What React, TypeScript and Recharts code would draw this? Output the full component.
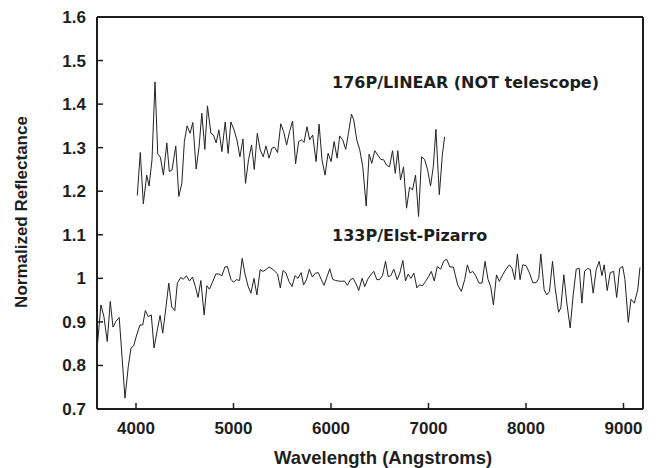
import React from 'react';
import { LineChart, Line, XAxis, YAxis, ReferenceDot, Label } from 'recharts';

// 176P/LINEAR (NOT telescope)
const wavelength176 = [
  4013, 4044, 4075, 4110, 4134, 4164, 4195, 4223, 4250, 4281, 4316, 4342, 4370, 4408, 4439, 4470,
  4496, 4524, 4555, 4583, 4617, 4647, 4675, 4706, 4733, 4768, 4794, 4822, 4850, 4881, 4915, 4945,
  4973, 5004, 5035, 5066, 5097, 5123, 5154, 5185, 5213, 5244, 5274, 5305, 5333, 5364, 5395, 5421,
  5452, 5485, 5514, 5545, 5575, 5606, 5637, 5668, 5699, 5723, 5754, 5781, 5812, 5847, 5878, 5908,
  5939, 5970, 6001, 6032, 6063, 6089, 6120, 6151, 6179, 6210, 6233, 6264, 6295, 6326, 6361, 6391,
  6418, 6449, 6480, 6511, 6541, 6569, 6600, 6631, 6659, 6685, 6713, 6744, 6775, 6806, 6836, 6867,
  6898, 6929, 6960, 6991, 7021, 7049, 7076, 7111, 7142, 7165,
];
const reflect176 = [
  1.19, 1.289, 1.171, 1.237, 1.212, 1.272, 1.451, 1.286, 1.278, 1.237, 1.311, 1.245, 1.249, 1.304, 1.188, 1.218,
  1.314, 1.35, 1.333, 1.358, 1.251, 1.302, 1.379, 1.296, 1.396, 1.333, 1.329, 1.311, 1.341, 1.291, 1.359, 1.287,
  1.359, 1.342, 1.318, 1.279, 1.32, 1.218, 1.272, 1.306, 1.25, 1.333, 1.295, 1.279, 1.304, 1.276, 1.299, 1.301,
  1.289, 1.355, 1.337, 1.306, 1.337, 1.361, 1.263, 1.314, 1.318, 1.312, 1.348, 1.318, 1.329, 1.268, 1.354, 1.272,
  1.237, 1.287, 1.268, 1.314, 1.276, 1.327, 1.318, 1.296, 1.333, 1.377, 1.364, 1.318, 1.295, 1.256, 1.166, 1.285,
  1.264, 1.293, 1.283, 1.273, 1.272, 1.26, 1.256, 1.293, 1.241, 1.293, 1.226, 1.256, 1.161, 1.209, 1.203, 1.237,
  1.142, 1.279, 1.273, 1.249, 1.212, 1.256, 1.342, 1.192, 1.283, 1.325,
];

// 133P/Elst-Pizarro
const wavelength133 = [
  3602, 3640, 3671, 3705, 3736, 3764, 3794, 3828, 3887, 3921, 3949, 3976, 4007, 4041, 4069, 4096,
  4126, 4157, 4185, 4216, 4247, 4274, 4308, 4336, 4367, 4398, 4424, 4459, 4486, 4517, 4548, 4579,
  4609, 4637, 4665, 4699, 4727, 4753, 4788, 4819, 4850, 4881, 4912, 4938, 4973, 5000, 5031, 5062,
  5089, 5120, 5151, 5179, 5210, 5240, 5274, 5302, 5333, 5364, 5395, 5425, 5452, 5480, 5508, 5538,
  5569, 5600, 5631, 5662, 5693, 5719, 5750, 5778, 5809, 5840, 5870, 5901, 5929, 5960, 5987, 6017,
  6045, 6076, 6107, 6138, 6168, 6199, 6227, 6258, 6284, 6319, 6346, 6377, 6408, 6439, 6470, 6497,
  6528, 6559, 6587, 6613, 6644, 6679, 6706, 6737, 6764, 6792, 6819, 6850, 6881, 6908, 6939, 6970,
  7001, 7029, 7059, 7090, 7124, 7155, 7186, 7220, 7255, 7299, 7337, 7371, 7399, 7426, 7453, 7484,
  7518, 7549, 7580, 7610, 7638, 7666, 7697, 7727, 7761, 7795, 7830, 7857, 7885, 7912, 7939, 7967,
  8001, 8036, 8070, 8104, 8131, 8152, 8186, 8213, 8241, 8272, 8299, 8334, 8357, 8388, 8419, 8453,
  8484, 8515, 8546, 8573, 8601, 8632, 8659, 8689, 8720, 8751, 8779, 8802, 8833, 8864, 8899, 8930,
  8961, 8992, 9015, 9049, 9077, 9111, 9146, 9169,
];
const reflect133 = [
  0.84, 0.939, 0.912, 0.855, 0.947, 0.888, 0.901, 0.91, 0.725, 0.798, 0.84, 0.845, 0.87, 0.893, 0.893, 0.926,
  0.912, 0.916, 0.84, 0.878, 0.915, 0.874, 0.935, 0.989, 0.934, 0.926, 0.989, 1.002, 0.998, 1.006, 0.994, 1.003,
  0.981, 0.956, 0.995, 0.916, 0.983, 0.975, 0.993, 1.01, 1.01, 1.006, 1.026, 1.027, 0.998, 0.991, 0.997, 0.995,
  1.046, 1.008, 0.981, 0.966, 1.0, 0.962, 1.02, 1.016, 1.02, 1.026, 1.022, 1.016, 1.01, 0.978, 1.018, 1.012,
  0.993, 0.981, 1.006, 1.0, 1.013, 0.985, 0.998, 1.021, 1.003, 1.012, 1.013, 0.997, 0.984, 1.004, 1.022, 0.998,
  0.995, 0.994, 0.993, 0.994, 0.984, 0.997, 1.0, 0.987, 0.972, 1.0, 0.981, 0.998, 1.008, 1.016, 0.997, 0.997,
  1.006, 1.039, 1.004, 1.006, 1.021, 0.997, 1.012, 1.041, 0.994, 1.01, 1.0, 1.012, 0.978, 0.985, 0.983, 0.993,
  1.004, 1.016, 0.994, 1.027, 1.021, 1.039, 1.044, 1.026, 1.026, 0.985, 0.97, 0.997, 1.031, 1.012, 1.016, 1.006,
  0.989, 0.989, 1.039, 0.998, 0.981, 0.939, 1.008, 0.993, 1.008, 1.021, 1.031, 1.023, 0.997, 1.056, 0.997, 1.031,
  1.029, 1.012, 0.99, 0.99, 1.0, 1.056, 0.974, 0.962, 0.97, 1.039, 0.978, 0.922, 0.932, 1.008, 0.943, 0.886,
  0.962, 1.021, 1.023, 0.943, 1.016, 1.023, 1.02, 0.966, 1.02, 1.039, 1.006, 1.031, 0.972, 1.013, 1.016, 0.956,
  1.023, 1.027, 0.997, 0.899, 0.952, 0.943, 0.974, 1.025,
];

const xTicks = [4000, 5000, 6000, 7000, 8000, 9000];
const yTicks = [0.7, 0.8, 0.9, 1, 1.1, 1.2, 1.3, 1.4, 1.5, 1.6];
const xDomain = [3600, 9200];
const yDomain = [0.7, 1.6];

const seriesNames = ['176P/LINEAR (NOT telescope)', '133P/Elst-Pizarro'];
const labelAnchorWavelength = [6011, 6011];
const labelAnchorReflectance = [1.4495, 1.0986];

const xTitle = 'Wavelength (Angstroms)';
const yTitle = 'Normalized Reflectance';

const data176 = wavelength176.map((w, i) => ({ w, r: reflect176[i] }));
const data133 = wavelength133.map((w, i) => ({ w, r: reflect133[i] }));

const INK = '#1e1e1e';
const tickFont = {
  fill: INK,
  fontSize: 17,
  fontWeight: 'bold' as const,
  fontFamily: '"Liberation Sans", Arial, sans-serif',
};

export default function App() {
  return (
    <div style={{ position: 'absolute', left: 0, top: 0, width: 664, height: 468, background: '#fff' }}>
      <LineChart width={664} height={468} margin={{ top: 16, right: 20, bottom: 0, left: 0 }}>
        <XAxis
          xAxisId="b"
          dataKey="w"
          type="number"
          domain={xDomain}
          ticks={xTicks}
          interval={0}
          allowDataOverflow
          height={59}
          tickSize={-6}
          tickMargin={19}
          axisLine={{ stroke: INK, strokeWidth: 2 }}
          tickLine={{ stroke: INK, strokeWidth: 1.5 }}
          tick={tickFont}
        >
          <Label
            content={(props: any) => {
              const vb = props.viewBox || {};
              return (
                <text
                  x={vb.x + vb.width / 2 + 13}
                  y={464}
                  textAnchor="middle"
                  fill={INK}
                  fontSize={18.5}
                  fontWeight="bold"
                  fontFamily='"Liberation Sans", Arial, sans-serif'
                >
                  {xTitle}
                </text>
              );
            }}
          />
        </XAxis>
        <XAxis
          xAxisId="t"
          orientation="top"
          type="number"
          domain={xDomain}
          ticks={xTicks}
          interval={0}
          allowDataOverflow
          height={1}
          tickSize={-6}
          axisLine={{ stroke: INK, strokeWidth: 2 }}
          tickLine={{ stroke: INK, strokeWidth: 1.5 }}
          tick={false}
        />
        <YAxis
          yAxisId="l"
          type="number"
          domain={yDomain}
          ticks={yTicks}
          interval={0}
          allowDataOverflow
          width={97}
          tickSize={-6}
          tickMargin={17}
          axisLine={{ stroke: INK, strokeWidth: 2 }}
          tickLine={{ stroke: INK, strokeWidth: 1.5 }}
          tick={tickFont}
        >
          <Label
            content={(props: any) => {
              const vb = props.viewBox || {};
              const cy = vb.y + vb.height / 2 - 1;
              return (
                <text
                  x={27}
                  y={cy}
                  transform={`rotate(-90 27 ${cy})`}
                  textAnchor="middle"
                  fill={INK}
                  fontSize={17}
                  fontWeight="bold"
                  fontFamily='"Liberation Sans", Arial, sans-serif'
                >
                  {yTitle}
                </text>
              );
            }}
          />
        </YAxis>
        <YAxis
          yAxisId="r"
          orientation="right"
          type="number"
          domain={yDomain}
          ticks={yTicks}
          interval={0}
          allowDataOverflow
          width={1}
          tickSize={-6}
          axisLine={{ stroke: INK, strokeWidth: 2 }}
          tickLine={{ stroke: INK, strokeWidth: 1.5 }}
          tick={false}
        />
        <Line
          xAxisId="b"
          yAxisId="l"
          data={data176}
          dataKey="r"
          type="linear"
          stroke="#222"
          strokeWidth={1}
          dot={false}
          activeDot={false}
          isAnimationActive={false}
        />
        <Line
          xAxisId="b"
          yAxisId="l"
          data={data133}
          dataKey="r"
          type="linear"
          stroke="#222"
          strokeWidth={1}
          dot={false}
          activeDot={false}
          isAnimationActive={false}
        />
        {seriesNames.map((name, i) => (
          <ReferenceDot
            key={name}
            xAxisId="b"
            yAxisId="l"
            x={labelAnchorWavelength[i]}
            y={labelAnchorReflectance[i]}
            r={0}
            ifOverflow="visible"
            shape={(p: any) => (
              <text
                x={p.cx}
                y={p.cy}
                dy={5.8}
                textAnchor="start"
                fill={INK}
                fontSize={16}
                fontWeight="bold"
                fontFamily='"DejaVu Sans", sans-serif'
              >
                {name}
              </text>
            )}
          />
        ))}
      </LineChart>
    </div>
  );
}
